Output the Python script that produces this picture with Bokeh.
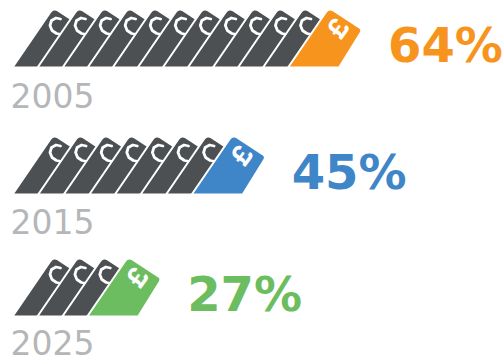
from bokeh.core.properties import value
from bokeh.embed import file_html
from bokeh.models import Range1d
from bokeh.plotting import figure
from bokeh.resources import INLINE

# Share of cost per period, shown as a row of slanted price tags
years = ["2005", "2015", "2025"]
percents = ["64%", "45%", "27%"]
tag_counts = [12, 8, 4]
accent_colors = ["#F7941E", "#3F86C8", "#6CBD5F"]

DARK = "#4D5053"
YEAR_GREY = "#B4B6B8"

row_origins = [12, 12, 12]
row_baselines = [67, 194, 316]
tag_step = [25.05, 25.6, 24.9]
year_centers = [95, 221, 342]
label_gap = 27

# Tag outline relative to its bottom-left corner, y upwards: (x, y, corner radius)
TAG = [(0, 0, 0), (51, 0, 0), (74.5, 38, 4), (41, 60, 6)]
# White curl cut into each dark tag near its tip
CURL = [(49, 33), (44, 34), (39.5, 37), (37.5, 42), (39, 47), (43.5, 49.5), (48, 48.5)]


def rounded(points, steps=6):
    out = []
    n = len(points)
    for i, (x, y, r) in enumerate(points):
        if r == 0:
            out.append((x, y))
            continue
        px, py, _ = points[i - 1]
        nx, ny, _ = points[(i + 1) % n]
        d1 = ((px - x) ** 2 + (py - y) ** 2) ** 0.5
        d2 = ((nx - x) ** 2 + (ny - y) ** 2) ** 0.5
        a = (x + (px - x) * r / d1, y + (py - y) * r / d1)
        b = (x + (nx - x) * r / d2, y + (ny - y) * r / d2)
        for s in range(steps + 1):
            t = s / steps
            out.append(((1 - t) ** 2 * a[0] + 2 * t * (1 - t) * x + t ** 2 * b[0],
                        (1 - t) ** 2 * a[1] + 2 * t * (1 - t) * y + t ** 2 * b[1]))
    return out


p = figure(width=504, height=362, x_range=Range1d(0, 504), y_range=Range1d(362, 0),
           output_backend="svg", toolbar_location=None, min_border=0, outline_line_color=None)
p.axis.visible = False
p.grid.visible = False

tag_shape = rounded(TAG)

for year, pct, count, color, x0, base, step, year_y in zip(
        years, percents, tag_counts, accent_colors, row_origins, row_baselines, tag_step, year_centers):
    for i in range(count):
        ox = x0 + i * step
        fill = color if i == count - 1 else DARK
        p.patch([ox + x for x, _ in tag_shape], [base - y for _, y in tag_shape],
                fill_color=fill, line_color="white", line_width=2)
        if i < count - 1:
            p.line([ox + x for x, _ in CURL], [base - y for _, y in CURL],
                   line_color="white", line_width=2.8, line_cap="round", line_join="round")
    tip_x = x0 + (count - 1) * step
    p.text([tip_x + 50], [base - 39], text=["£"], text_color="white", angle=0.95, angle_units="rad",
           text_font=value("Inter"), text_font_style="bold", text_font_size="27px",
           text_align="center", text_baseline="middle")
    p.text([tip_x + 73 + label_gap], [base - 23], text=[pct], text_color=color,
           text_font=value("DejaVu Sans"), text_font_style="bold", text_font_size="48px",
           text_align="left", text_baseline="middle")
    p.text([10], [year_y], text=[year], text_color=YEAR_GREY,
           text_font=value("DejaVu Sans"), text_font_size="33px",
           text_align="left", text_baseline="middle")

open("out.html", "w").write(file_html(p, INLINE))
